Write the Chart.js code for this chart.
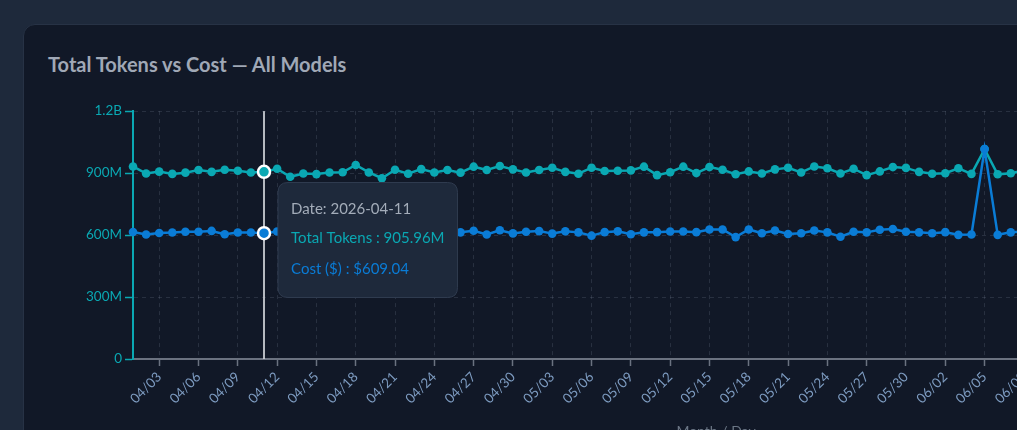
<!DOCTYPE html>
<html>
<head>
<meta charset="utf-8">
<script src="https://cdn.jsdelivr.net/npm/chart.js@4.4.1/dist/chart.umd.min.js"></script>
<style>
  html, body { margin: 0; padding: 0; overflow: hidden; background: #1e293b; width: 1017px; height: 430px; }
  #card { position: absolute; left: 23px; top: 24px; width: 1350px; height: 480px; background: #111827; border: 1px solid #273245; border-radius: 12px; box-sizing: border-box; }
  #title { position: absolute; left: 48px; top: 52px; line-height: 22px; font: bold 20px Lato, "Open Sans", sans-serif; color: #a0a8b6; white-space: nowrap; }
  #wrap { position: absolute; left: 48px; top: 100px; width: 1301px; height: 344px; }
</style>
</head>
<body>
<div id="card"></div>
<div id="title">Total Tokens vs Cost — All Models</div>
<div id="wrap"><canvas id="c"></canvas></div>
<script>
// ---- data ----
const startDate = '2026-04-01';
const dayCount = 90;
const tokensM = [932, 898, 907, 896, 902, 915, 906, 916, 911, 903, 905.96, 921, 882, 898, 895, 903, 904, 939, 903, 875,
  916, 897, 919, 903, 915, 902, 931, 915, 934, 918, 903, 915, 926, 906, 897, 926, 910, 911, 913, 931,
  890, 904, 931, 900, 929, 916, 894, 908, 898, 918, 926, 903, 932, 923, 898, 921, 890, 908, 929, 925,
  906, 897, 899, 923, 896, 1016, 894, 899,
  912, 925, 901, 917, 894, 928, 909, 903, 921, 899, 915, 930, 906, 897, 919, 911, 924, 902, 916, 893, 927, 908];
const costUSD = [615, 603, 610, 612, 616, 616, 620, 604, 612, 612, 609.04, 617, 612, 606, 614, 619, 611, 608, 615, 620,
  610, 613, 618, 607, 614, 613, 621, 603, 623, 608, 616, 619, 607, 618, 613, 597, 614, 618, 604, 613,
  614, 617, 617, 614, 627, 627, 590, 627, 609, 622, 605, 609, 622, 613, 592, 616, 613, 626, 629, 616,
  613, 609, 614, 601, 603, 1016, 601, 613,
  617, 606, 621, 611, 598, 624, 613, 609, 618, 603, 615, 626, 610, 601, 619, 612, 623, 605, 616, 596, 625, 611];
const yTicks = [0, 300, 600, 900, 1200];
const hoverIndex = 10;

// category labels (dates)
const dates = [];
{
  const d0 = new Date(startDate + 'T00:00:00Z');
  for (let i = 0; i < dayCount; i++) {
    const d = new Date(d0.getTime() + i * 86400000);
    dates.push(d.toISOString().slice(0, 10));
  }
}
const shortLabels = dates.map(s => s.slice(5).replace('-', '/'));

const TEAL = '#0aa8b3';
const BLUE = '#0a7cd6';
const FONT = 'Lato, "Open Sans", sans-serif';

Chart.Tooltip.positioners.sideFixed = function (elements) {
  if (!elements.length) return false;
  const ca = this.chart.chartArea;
  return { x: elements[0].element.x, y: ca.top + (ca.bottom - ca.top) * 0.52, xAlign: 'left', yAlign: 'center' };
};

const hoverLine = {
  id: 'hoverLine',
  beforeDatasetsDraw(chart) {
    const act = chart.tooltip && chart.tooltip.getActiveElements();
    if (!act || !act.length) return;
    const x = act[0].element.x;
    const { top, bottom } = chart.chartArea;
    const ctx = chart.ctx;
    ctx.save();
    ctx.strokeStyle = 'rgba(210,214,220,0.85)';
    ctx.lineWidth = 2;
    ctx.beginPath();
    ctx.moveTo(x, top);
    ctx.lineTo(x, bottom);
    ctx.stroke();
    ctx.restore();
  }
};

const fmtAxis = v => v === 0 ? '0' : (v >= 1000 ? (v / 1000) + 'B' : v + 'M');

const chart = new Chart(document.getElementById('c'), {
  type: 'line',
  data: {
    labels: shortLabels,
    datasets: [
      {
        label: 'Total Tokens', data: tokensM, yAxisID: 'y', order: 2,
        borderColor: TEAL, backgroundColor: TEAL, borderWidth: 2.5, tension: 0,
        pointRadius: 4.3, pointBackgroundColor: TEAL, pointBorderWidth: 0,
        pointHoverRadius: 6, pointHoverBorderWidth: 2.5, pointHoverBorderColor: '#ffffff', pointHoverBackgroundColor: TEAL
      },
      {
        label: 'Cost ($)', data: costUSD, yAxisID: 'y1', order: 1,
        borderColor: BLUE, backgroundColor: BLUE, borderWidth: 2.5, tension: 0,
        pointRadius: 4.3, pointBackgroundColor: BLUE, pointBorderWidth: 0,
        pointHoverRadius: 6, pointHoverBorderWidth: 2.5, pointHoverBorderColor: '#ffffff', pointHoverBackgroundColor: BLUE
      }
    ]
  },
  options: {
    responsive: true,
    maintainAspectRatio: false,
    animation: false,
    layout: { padding: 0 },
    interaction: { mode: 'index', intersect: false },
    plugins: {
      legend: { display: false },
      tooltip: {
        position: 'sideFixed',
        xAlign: 'left', yAlign: 'center',
        caretSize: 0, caretPadding: 14,
        backgroundColor: '#1e293b',
        borderColor: '#2f3b4f', borderWidth: 1,
        cornerRadius: 10,
        padding: { top: 18, bottom: 19, left: 13, right: 13 },
        displayColors: false,
        titleFont: { family: FONT, size: 15, weight: 'normal' },
        titleColor: '#a3acb9',
        titleMarginBottom: 11,
        bodyFont: { family: FONT, size: 15 },
        bodySpacing: 13,
        callbacks: {
          title: items => 'Date: ' + dates[items[0].dataIndex],
          label: item => item.datasetIndex === 0
            ? item.dataset.label + ' : ' + item.raw.toFixed(2) + 'M'
            : item.dataset.label + ' : $' + item.raw.toFixed(2),
          labelTextColor: item => item.dataset.borderColor
        }
      }
    },
    scales: {
      x: {
        offset: false,
        grid: {
          color: 'rgba(148,163,184,0.18)', lineWidth: 1,
          tickColor: '#6b7280', tickLength: 7, tickWidth: 1.5
        },
        border: { display: true, color: '#6b7280', width: 2, dash: [4, 4] },
        ticks: {
          autoSkip: false, maxRotation: 45, minRotation: 45,
          color: '#7d9bc0', font: { family: FONT, size: 13.5 },
          callback: (v, i) => (i % 3 === 2 ? shortLabels[i] : null)
        },
        title: { display: true, text: 'Month / Day', color: '#6b7685', font: { family: FONT, size: 14 } },
        afterFit: s => { s.height = 85; }
      },
      y: {
        position: 'left', min: 0, max: 1200,
        afterBuildTicks: s => { s.ticks = yTicks.map(v => ({ value: v })); },
        afterFit: s => { s.width = 85; },
        grid: { color: 'rgba(148,163,184,0.18)', tickColor: TEAL, tickLength: 8, tickWidth: 1.5 },
        border: { display: true, color: TEAL, width: 2, dash: [4, 4] },
        ticks: { color: TEAL, font: { family: FONT, size: 13.5 }, padding: 3, callback: v => fmtAxis(v) }
      },
      y1: {
        position: 'right', min: 0, max: 1200,
        afterBuildTicks: s => { s.ticks = yTicks.map(v => ({ value: v })); },
        afterFit: s => { s.width = 50; },
        grid: { drawOnChartArea: false, tickColor: BLUE, tickLength: 8 },
        border: { display: true, color: BLUE, width: 2 },
        ticks: { color: BLUE, font: { family: FONT, size: 13 }, callback: v => v === 0 ? '$0' : '$' + (v >= 1000 ? (v / 1000) + 'K' : v) }
      }
    }
  },
  plugins: [hoverLine]
});

const els = [{ datasetIndex: 0, index: hoverIndex }, { datasetIndex: 1, index: hoverIndex }];
chart.setActiveElements(els);
chart.tooltip.setActiveElements(els, { x: 0, y: 0 });
chart.update();
</script>
</body>
</html>
